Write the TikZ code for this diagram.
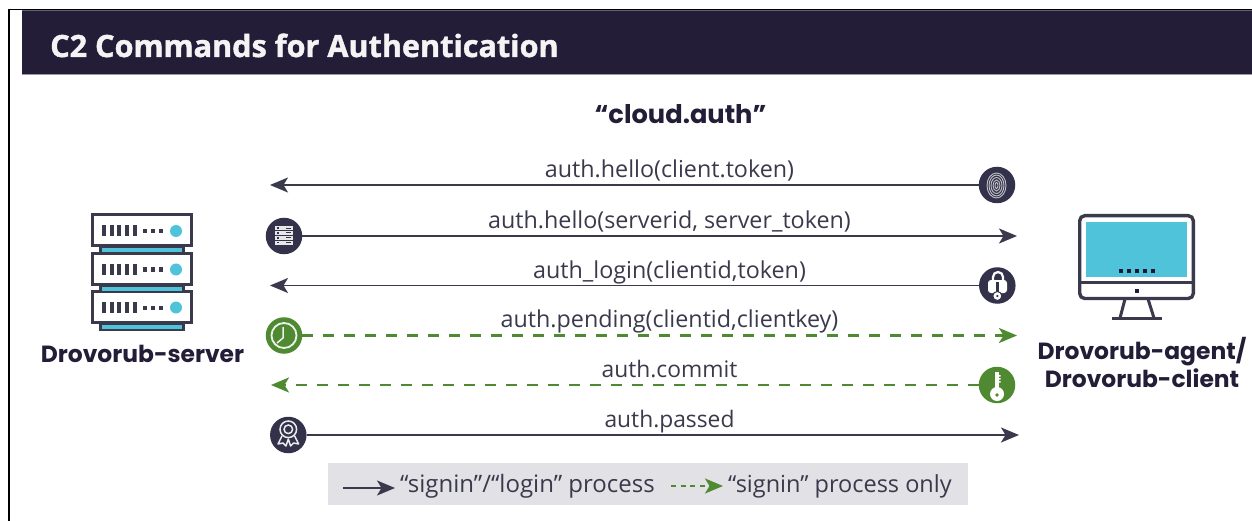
\documentclass[tikz,border=0pt]{standalone}
\usepackage{fontspec}
\setmainfont{Open Sans}
\newfontfamily\boldfont{Poppins}
\newfontfamily\titlefont[FakeBold=1.4]{Open Sans Bold}
\usetikzlibrary{arrows.meta}
\definecolor{navy}{HTML}{231D38}
\definecolor{ink}{HTML}{3A3A4C}
\definecolor{discc}{HTML}{33324A}
\definecolor{leaf}{HTML}{4F8A32}
\definecolor{cyanf}{HTML}{4FC3D9}
\definecolor{legendbg}{HTML}{E2E1E6}
\tikzset{
  flowtip/.style={-{Stealth[length=18pt,width=15pt,inset=4.5pt]}},
  flow/.style={line width=1.8pt,draw=ink,flowtip},
  flowg/.style={line width=2.2pt,draw=leaf,dash pattern=on 10.5pt off 10.5pt,flowtip},
  lbl/.style={font=\fontsize{23.3}{26}\selectfont,text=ink,inner sep=0pt,anchor=base},
  lblshort/.style={lbl,font=\fontsize{22.8}{26}\selectfont},
  legendlbl/.style={font=\fontsize{24}{28}\selectfont,text=ink,inner sep=0pt,anchor=base west},
  head/.style={font=\boldfont\bfseries\fontsize{23.4}{28}\selectfont,text=navy,inner sep=0pt,align=center},
  disc/.style={circle,minimum size=36.5pt,inner sep=0pt,fill=discc},
  discg/.style={circle,minimum size=36.5pt,inner sep=0pt,fill=leaf},
}
\newcommand{\rackunit}[1]{%
  \fill[ink] (99,#1+33) rectangle (185,#1+41);
  \fill[cyanf] (102,#1+35) rectangle (182,#1+39);
  \draw[ink,line width=3pt,fill=white] (92.5,#1+1.5) rectangle (191.5,#1+32.5);
  \foreach \x in {104,111.7,119.3,127,134.7}{\fill[ink] (\x-2,#1+12) rectangle (\x+2,#1+23);}
  \foreach \x in {145,153,161}{\fill[ink] (\x-2,#1+15.5) rectangle (\x+2,#1+19.5);}
  \fill[cyanf] (176,#1+17.5) circle (6);
}
\begin{document}
\begin{tikzpicture}[x=1pt,y=-1pt]
\useasboundingbox (0,0) rectangle (1252,521);
\fill[white] (0,0) rectangle (1252,521);
% page edge lines
\fill[black] (8,9) rectangle (1252,10.5);
\fill[black] (7.5,9) rectangle (9.5,521);
% header
\fill[navy] (22,10.5) rectangle (1252,74);
\fill[navy!70!white] (22,10.5) rectangle (1252,11.5);
\fill[navy!45!white] (22,74) rectangle (1252,75);
\node[anchor=base west,inner sep=0pt,text=white!95!navy,font=\titlefont\fontsize{30.6}{36}\selectfont] (title) at (50,57) {C2 Commands for Authentication};
\node[head,font=\boldfont\bfseries\fontsize{25.7}{30}\selectfont] (sub) at (680.5,114) {“cloud.auth”};
% server icon
\rackunit{290}
\rackunit{252}
\rackunit{213.5}
\node[head] (srv) at (142.5,354) {Drovorub-server};
% client icon
\draw[ink,line width=3.4pt,rounded corners=5pt,fill=white] (1079.7,215.7) rectangle (1193.3,298.5);
\fill[cyanf] (1086,222) rectangle (1187,277);
\draw[ink,line width=3pt] (1080,282) -- (1193,282);
\foreach \x in {1121,1129,1137,1145,1153}{\fill[navy!85!black] (\x-1.8,269.2) rectangle (\x+1.8,272.8);}
\fill[navy] (1134.7,288.7) rectangle (1138.7,292.7);
\draw[ink,line width=3pt] (1125,299) -- (1120,318) (1148,299) -- (1154,318);
\draw[ink,line width=3.4pt] (1112,318.5) -- (1162,318.5);
\node[head,align=center] (cli) at (1142,362) {Drovorub-agent/\\Drovorub-client};
% discs
\node[disc]  (d1) at (997,185) {};
\node[disc]  (d2) at (284,236) {};
\node[disc]  (d3) at (997.3,285.5) {};
\node[discg] (d4) at (284,335.5) {};
\node[discg] (d5) at (997,385) {};
\node[disc]  (d6) at (288.3,435) {};
% free ends
\coordinate (e1) at (270,185);
\coordinate (e2) at (1017,236);
\coordinate (e3) at (270,285.5);
\coordinate (e4) at (1017,335.5);
\coordinate (e5) at (271,385);
\coordinate (e6) at (1019,435);
\draw[flow] (d1) -- (e1);
\draw[flow] (d2) -- (e2);
\draw[flow] (d3) -- (e3);
\draw[flowg] (d4) -- (e4);
\draw[flowg] (d5) -- (e5);
\draw[flow] (d6) -- (e6);
% fingerprint
\foreach \a/\b in {1.5/3,3.5/5.5,5.5/8,7.5/10.5,9.5/12.5}{\draw[white!70!discc,line width=.9pt] (996.5,185.5) ellipse[x radius=\a,y radius=\b];}
% server mini
\fill[white!88!discc] (275,226) rectangle (293,245);
\foreach \y in {230.7,235.5,240.2}{\draw[discc,line width=.8pt] (275,\y) -- (293,\y);}
\foreach \y in {228.3,233,238,242.6}{\fill[discc] (277,\y-.8) rectangle (279,\y+.8); \fill[discc] (286,\y-.5) rectangle (291,\y+.5);}
% lock with key
\draw[white,line width=2.2pt] (993,281) -- (993,277) arc[start angle=180,end angle=360,radius=5] -- (1003,281);
\fill[white,rounded corners=3pt] (988,280) rectangle (1007,293);
\fill[discc] (996,282) rectangle (998.6,293);
\draw[discc,line width=1pt,fill=white] (997.3,296) circle (4.5);
\fill[discc] (997.3,296) circle (1.3);
% clock
\draw[white!90!leaf,line width=1.8pt] (d4.center) circle (12.5);
\draw[white!90!leaf,line width=1.5pt,line join=round] (283,327) -- (283,338) -- (277,343);
% key
\fill[white] (997,394) circle (7);
\fill[white] (995,372) rectangle (999,390);
\fill[white] (999,375) rectangle (1000.7,376.5) (999,378) rectangle (1000.7,379.5) (999,381) rectangle (1000.7,382.5);
\fill[leaf] (997,395) circle (1.8);
% award
\draw[white!90!discc,line width=1.5pt] (288.3,429.3) circle (8.3);
\draw[white!90!discc,line width=1.5pt] (288.3,429.3) circle (4.3);
\draw[white!90!discc,line width=1.5pt,line join=round] (282,436) -- (278,444) -- (283,443) -- (286,446) -- (288.3,439) -- (290.6,446) -- (293.6,443) -- (298.6,444) -- (294.6,436);
% labels
\node[lbl] (l1) at (669.5,178) {auth.hello(client.token)};
\node[lbl] (l2) at (669.5,228.5) {auth.hello(serverid, server\_token)};
\node[lbl] (l3) at (669.5,278.5) {auth\_login(clientid,token)};
\node[lbl] (l4) at (669.5,327.5) {auth.pending(clientid,clientkey)};
\node[lblshort] (l5) at (669.5,377.5) {auth.commit};
\node[lblshort] (l6) at (669.5,427.5) {auth.passed};
% legend
\fill[legendbg] (328,463) rectangle (968,505);
\coordinate (a1) at (343,488);
\coordinate (a2) at (395,488);
\coordinate (b1) at (671,486);
\coordinate (b2) at (723,486);
\draw[line width=1.8pt,draw=ink,flowtip] (a1) -- (a2);
\draw[line width=2pt,draw=leaf,dash pattern=on 5pt off 4.5pt,flowtip] (b1) -- (b2);
\node[legendlbl] (t1) at (400,492) {“signin”/“login” process};
\node[legendlbl,font=\fontsize{23.5}{28}\selectfont] (t2) at (728,492) {“signin” process only};
\end{tikzpicture}
\end{document}
